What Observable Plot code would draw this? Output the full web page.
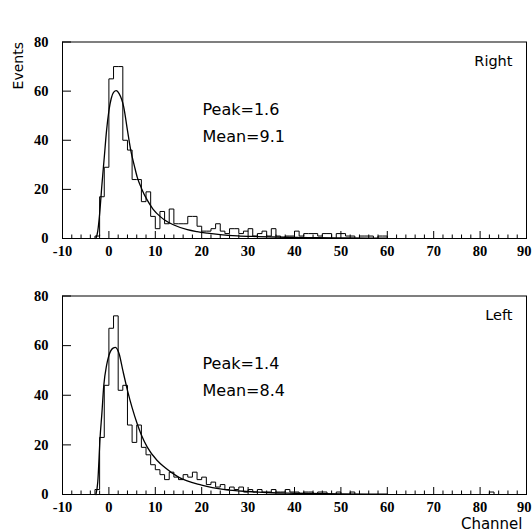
<!DOCTYPE html>
<html><head><meta charset="utf-8">
<script src="https://cdn.jsdelivr.net/npm/d3@7"></script>
<script src="https://cdn.jsdelivr.net/npm/@observablehq/plot@0.6"></script>
<style>
body{margin:0;background:#fff;}
#wrap{position:relative;width:532px;height:532px;overflow:hidden;background:#fff;}
#title{position:absolute;left:0;top:5px;width:574px;text-align:center;font:bold 26px/26px "Liberation Serif",serif;color:#000;}
.panel{position:absolute;left:0;}
</style></head><body>
<div id="wrap"><div id="title">Landau Fit</div></div>
<script>
// ---- data ----
const xTicks = [-10, 0, 10, 20, 30, 40, 50, 60, 70, 80, 90];
const yTicks = [0, 20, 40, 60, 80];

// histogram bins: lower edge of each 1-channel bin
const rightChannels = d3.range(-4, 62);
const rightCounts = [0, 1, 17, 29, 65, 70, 70, 40, 36, 24, 24, 15, 19, 9, 4, 11, 6, 12, 6, 6, 6, 9, 9, 5,
  3, 3, 4, 6, 3, 2, 4, 4, 2, 3, 4, 1, 2, 3, 1, 4, 1, 0, 1, 1, 3, 1, 2, 2, 2, 1, 2, 2, 0, 2, 2, 1,
  1, 0, 1, 1, 1, 0, 1, 1, 0, 0];
const leftChannels = d3.range(-4, 86);
const leftCounts = [0, 2, 23, 44, 67, 72, 42, 44, 28, 21, 28, 19, 16, 12, 10, 8, 6, 9, 7, 6, 8, 7, 9, 6,
  7, 4, 5, 3, 4, 2, 3, 2, 3, 1, 2, 1, 2, 1, 1, 2, 1, 1, 2, 1, 1, 0, 1, 1, 0, 1, 1, 0, 0, 1,
  0, 0, 1, 0, 0, 0, 0, 0, 0, 0, 0, 0, 0, 0, 0, 0, 0, 0, 0, 0, 0, 0, 0, 0, 0, 0, 0, 0, 0, 0, 0, 0, 1, 0, 0, 0];

// fitted Landau curves
const rightFitX = [-2.8, -2.4, -2, -1.5, -1, -0.5, 0, 0.5, 1, 1.6, 2.2, 3.2, 4, 4.7, 5.5, 6.1, 7, 8.3, 9.5, 11.2, 12, 14, 16.9, 19, 21.2, 24, 27.7, 32, 38, 45, 52, 60];
const rightFitY = [0, 3, 10, 22, 33, 44, 52, 57, 59.5, 60.2, 59, 53.5, 44, 36, 29.5, 25, 20.5, 15.5, 12, 8.7, 7.5, 5.5, 3.6, 2.8, 2.2, 1.6, 1.1, 0.8, 0.5, 0.3, 0.2, 0.1];
const leftFitX = [-2.8, -2.4, -1.9, -1.5, -1.1, -0.5, 0, 0.9, 1.4, 2.2, 3, 4, 5, 6.1, 7, 8.3, 10.4, 12, 15, 20, 25, 30, 35, 40, 50, 60];
const leftFitY = [0, 5, 23, 33, 44, 52, 56, 59, 59.3, 56.7, 50, 42, 35, 28.5, 24, 19, 13.7, 11, 7, 3.8, 2, 1.2, 0.7, 0.5, 0.2, 0.1];

const rightStats = ["Peak=1.6", "Mean=9.1"];
const leftStats = ["Peak=1.4", "Mean=8.4"];

// ---- drawing ----
const serif = "Liberation Serif, Times New Roman, serif";
const sans = "DejaVu Sans, sans-serif";
const minorTicks = d3.range(-10, 91, 2).filter(v => v % 10 !== 0);
const lastTick = xTicks[xTicks.length - 1];
const tickFont = {fontFamily: serif, fontWeight: "bold", fontSize: 14.5};

function histRows(ch, counts) {
  const rows = ch.map((c, i) => ({x: c, y: counts[i]}));
  const last = rows[rows.length - 1];
  rows.push({x: last.x + 1, y: last.y});
  return rows;
}

function panel({channels, counts, fitX, fitY, name, stats, height, marginTop, marginBottom, extra}) {
  const fit = fitX.map((x, i) => ({x, y: fitY[i]}));
  return Plot.plot({
    width: 532, height,
    marginLeft: 62, marginRight: 6, marginTop, marginBottom,
    style: {fontFamily: sans, background: "white", color: "black", overflow: "visible"},
    x: {domain: [-10, 90], label: null},
    y: {domain: [0, 80], label: null},
    marks: [
      Plot.axisX(minorTicks, {tickSize: -3.5, fill: "none", label: null}),
      Plot.axisX(xTicks, {tickSize: -7, tickPadding: 14.4, label: null, ...tickFont, tickFormat: d => d === lastTick ? "" : String(d)}),
      Plot.axisX([lastTick], {tickSize: 0, tickPadding: 7.4, textAnchor: "end", dx: 5, label: null, ...tickFont, tickFormat: d => String(d)}),
      Plot.axisY(yTicks, {tickSize: -9, tickPadding: 23, label: null, ...tickFont, tickFormat: d => String(d)}),
      Plot.line(histRows(channels, counts), {x: "x", y: "y", curve: "step-after", stroke: "black", strokeWidth: 1}),
      Plot.line(fit, {x: "x", y: "y", curve: "monotone-x", stroke: "black", strokeWidth: 1.3}),
      Plot.frame({stroke: "black", strokeWidth: 1}),
      Plot.text([name], {frameAnchor: "top-right", dx: -14, dy: 24, textAnchor: "end", lineAnchor: "bottom", fontSize: 14.5, fontFamily: sans}),
      Plot.text([stats[0]], {frameAnchor: "top-left", dx: 140, dy: 73, textAnchor: "start", lineAnchor: "bottom", fontSize: 16, fontFamily: sans}),
      Plot.text([stats[1]], {frameAnchor: "top-left", dx: 140, dy: 99.5, textAnchor: "start", lineAnchor: "bottom", fontSize: 16, fontFamily: sans}),
      ...extra
    ]
  });
}

const topPanel = panel({channels: rightChannels, counts: rightCounts, fitX: rightFitX, fitY: rightFitY,
  name: "Right", stats: rightStats, height: 260, marginTop: 41.5, marginBottom: 22,
  extra: [Plot.text(["Events"], {frameAnchor: "top-left", dx: -44, dy: 0, rotate: -90, textAnchor: "end", lineAnchor: "middle", fontSize: 14, fontFamily: sans})]});
const bottomPanel = panel({channels: leftChannels, counts: leftCounts, fitX: leftFitX, fitY: leftFitY,
  name: "Left", stats: leftStats, height: 272, marginTop: 35.5, marginBottom: 38,
  extra: [Plot.text(["Channel"], {frameAnchor: "bottom-right", dx: -4, dy: 34, textAnchor: "end", lineAnchor: "bottom", fontSize: 15, fontFamily: sans})]});

topPanel.classList.add("panel"); topPanel.style.top = "0px";
bottomPanel.classList.add("panel"); bottomPanel.style.top = "260px";
const wrap = document.getElementById("wrap");
wrap.appendChild(topPanel);
wrap.appendChild(bottomPanel);
</script>
</body></html>
